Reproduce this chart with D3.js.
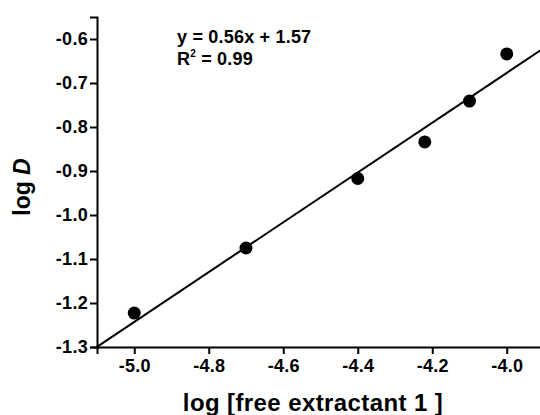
<!DOCTYPE html>
<html>
<head>
<meta charset="utf-8">
<script src="https://cdn.jsdelivr.net/npm/d3@7"></script>
<style>
  body { margin: 0; background: #fff; }
  text { font-family: "Liberation Sans", Arial, sans-serif; font-weight: bold; fill: #000; }
</style>
</head>
<body>
<div id="chart"></div>
<script>
var width = 540,
    height = 415;

// measured points
var logL = [-5.0, -4.7, -4.4, -4.22, -4.1, -4.0];
var logD = [-1.223, -1.075, -0.917, -0.834, -0.741, -0.634];

// fit line as drawn
var fitX = [-5.1, -3.9];
var slope = 0.566, intercept = 1.587;

var xTicks = [-5.0, -4.8, -4.6, -4.4, -4.2, -4.0];
var xMinor = [-5.1, -4.9, -4.7, -4.5, -4.3, -4.1, -3.9];
var yTicks = [-1.3, -1.2, -1.1, -1.0, -0.9, -0.8, -0.7, -0.6];
var yMinor = [-1.25, -1.15, -1.05, -0.95, -0.85, -0.75, -0.65, -0.55];

var x = d3.scaleLinear().domain([-5.1, -3.9]).range([97, 544]);
var y = d3.scaleLinear().domain([-1.3, -0.55]).range([347, 17]);

var svg = d3.select("#chart").append("svg")
    .attr("width", width)
    .attr("height", height);

// x axis
var xAxis = svg.append("g")
    .attr("transform", "translate(0," + y(-1.3) + ")");
xAxis.call(d3.axisBottom(x).tickValues(xMinor).tickSize(4).tickFormat(""));
xAxis.call(d3.axisBottom(x).tickValues(xTicks).tickSize(7).tickPadding(5)
    .tickFormat(d3.format(".1f")));

// y axis
var yAxis = svg.append("g")
    .attr("transform", "translate(" + x(-5.1) + ",0)");
yAxis.call(d3.axisLeft(y).tickValues(yMinor).tickSize(4).tickFormat(""));
yAxis.call(d3.axisLeft(y).tickValues(yTicks).tickSize(7).tickPadding(2)
    .tickFormat(d3.format(".1f")));

svg.selectAll(".domain").attr("stroke", "#000").attr("stroke-width", 2);
svg.selectAll(".tick line").attr("stroke", "#000").attr("stroke-width", 2);
svg.selectAll(".tick text")
    .style("font-size", "18px")
    .style("letter-spacing", "0.3px")
    .style("font-family", "'Liberation Sans', Arial, sans-serif")
    .style("font-weight", "bold")
    .text(function (d) { return d3.format(".1f")(d).replace("\u2212", "-"); });

// fit line
svg.append("line")
    .attr("x1", x(fitX[0]))
    .attr("y1", y(slope * fitX[0] + intercept))
    .attr("x2", x(fitX[1]))
    .attr("y2", y(slope * fitX[1] + intercept))
    .attr("stroke", "#000")
    .attr("stroke-width", 2);

// points
svg.selectAll("circle")
    .data(logL)
    .enter().append("circle")
    .attr("cx", function (d) { return x(d); })
    .attr("cy", function (d, i) { return y(logD[i]); })
    .attr("r", 6.5)
    .attr("fill", "#000");

// equation
svg.append("text")
    .attr("x", 177)
    .attr("y", 43)
    .style("font-size", "18px")
    .style("letter-spacing", "0.2px")
    .text("y = 0.56x + 1.57");
var r2 = svg.append("text")
    .attr("x", 177)
    .attr("y", 65)
    .style("font-size", "18px")
    .style("letter-spacing", "0.2px");
r2.append("tspan").text("R");
r2.append("tspan").attr("dy", -8).style("font-size", "10px").text("2");
r2.append("tspan").attr("dy", 8).text(" = 0.99");

// axis titles
svg.append("text")
    .attr("x", 313)
    .attr("y", 411)
    .attr("text-anchor", "middle")
    .style("font-size", "24px")
    .style("letter-spacing", "0.4px")
    .text("log [free extractant 1 ]");

var yl = svg.append("text")
    .attr("transform", "translate(30,187) rotate(-90)")
    .attr("text-anchor", "middle")
    .style("font-size", "23px");
yl.append("tspan").text("log ");
yl.append("tspan").style("font-style", "italic").text("D");
</script>
</body>
</html>
